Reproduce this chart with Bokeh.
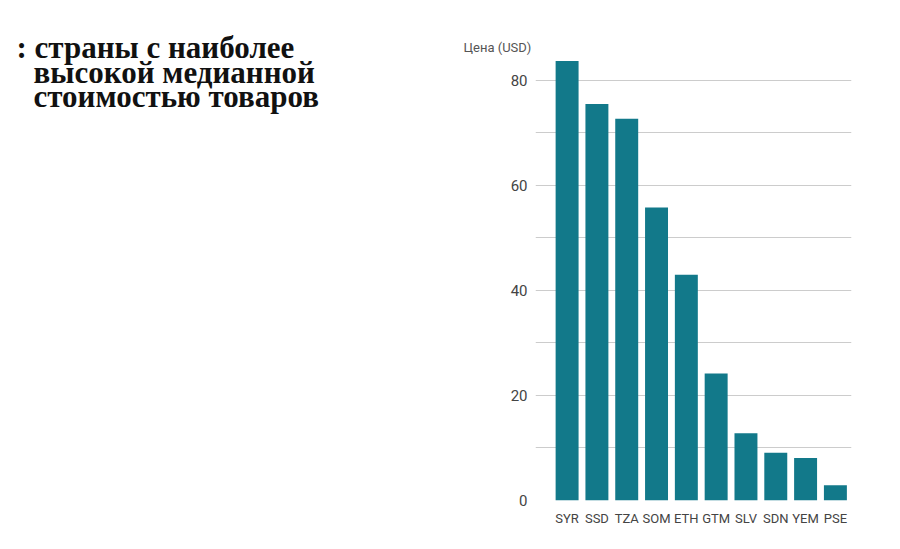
from bokeh.plotting import figure
from bokeh.layouts import row
from bokeh.models import Range1d, FixedTicker, ColumnDataSource
from bokeh.core.properties import value
from bokeh.embed import file_html
from bokeh.resources import INLINE

countries = ["SYR", "SSD", "TZA", "SOM", "ETH", "GTM", "SLV", "SDN", "YEM", "PSE"]
prices = [83.7, 75.5, 72.7, 55.8, 43.0, 24.2, 12.8, 9.1, 8.1, 2.9]
y_ticks = [0, 20, 40, 60, 80]
grid_ticks = [0, 10, 20, 30, 40, 50, 60, 70, 80]
title_lines = [": страны с наиболее", "высокой медианной", "стоимостью товаров"]
y_label = "Цена (USD)"

BAR = "#12798a"
TXT = "#444444"
TICK_FONT = "Roboto"

H = 540
TW = 440            # headline panel width
CW = 440            # chart panel width
FL, FR, FT, FB = 535, 851, 56, 500   # chart frame edges in page pixels

# ---- headline panel: frame = whole canvas, page-pixel coordinates ----
tf = figure(width=TW, height=H, x_range=Range1d(0, TW), y_range=Range1d(H, 0),
            output_backend="svg", toolbar_location=None, min_border=0, title=None)
tf.frame_align = False
tf.axis.visible = False
tf.grid.visible = False
tf.outline_line_color = None
tsrc = ColumnDataSource(dict(x=[16, 33, 33], y=[47, 72, 96], t=title_lines))
tf.text(x="x", y="y", text="t", source=tsrc, text_font=value("Liberation Serif"),
        text_font_size="31px", text_font_style="bold", text_color="#111111",
        text_baseline="alphabetic", text_align="left")

# ---- chart ----
xs = list(range(len(countries)))
src = ColumnDataSource(dict(x=xs, top=prices))
p = figure(width=CW, height=H, x_range=Range1d(-1.06, 9.54), y_range=Range1d(0, 84.57),
           output_backend="svg", toolbar_location=None,
           min_border_left=FL - TW, min_border_right=TW + CW - FR,
           min_border_top=FT, min_border_bottom=H - FB)
p.frame_align = False
p.vbar(x="x", top="top", width=0.77, source=src, fill_color=BAR, line_color=None)

p.outline_line_color = None
p.xgrid.visible = False
p.ygrid.ticker = FixedTicker(ticks=grid_ticks)
p.ygrid.grid_line_color = "#cccccc"
p.ygrid.grid_line_width = 1

p.yaxis.ticker = FixedTicker(ticks=y_ticks)
p.xaxis.ticker = FixedTicker(ticks=xs)
p.xaxis.major_label_overrides = {i: c for i, c in enumerate(countries)}
for ax in (p.xaxis, p.yaxis):
    ax.axis_line_color = None
    ax.major_tick_line_color = None
    ax.minor_tick_line_color = None
    ax.major_tick_out = 0
    ax.major_tick_in = 0
    ax.minor_tick_out = 0
    ax.major_label_text_font = TICK_FONT
    ax.major_label_text_color = TXT
p.yaxis.major_label_text_font_size = "15px"
p.yaxis.major_label_standoff = 8
p.xaxis.major_label_text_font_size = "13px"
p.xaxis.major_label_standoff = 10

p.title.text = y_label
p.title.align = "left"
p.title.offset = -72
p.title.text_font = TICK_FONT
p.title.text_font_size = "13px"
p.title.text_font_style = "normal"
p.title.text_color = "#555555"
p.title.vertical_align = "bottom"
p.title.standoff = 4

layout = row(tf, p, spacing=0)
open("out.html", "w").write(file_html(layout, INLINE))
